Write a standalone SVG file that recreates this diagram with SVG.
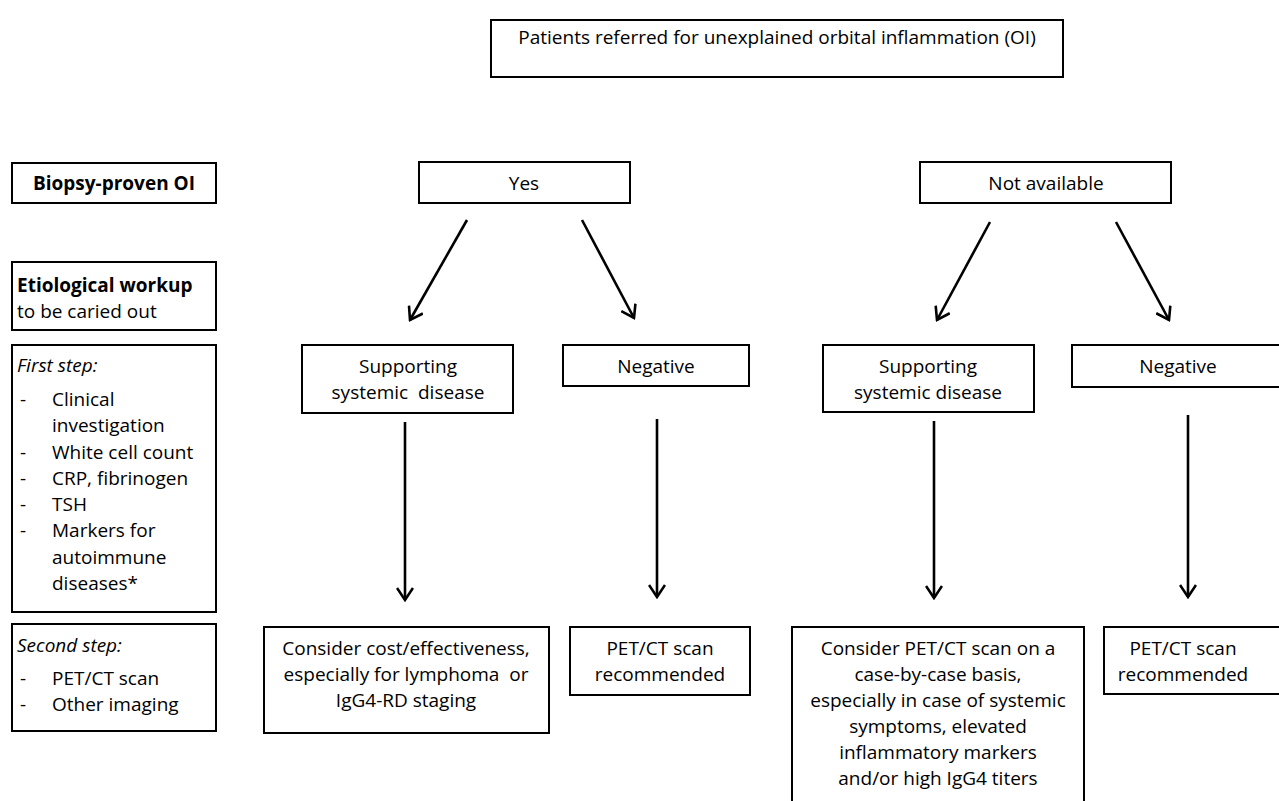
<svg xmlns="http://www.w3.org/2000/svg" width="1279" height="801" viewBox="0 0 1279 801">
<style>
.box{fill:#fff;stroke:#000;stroke-width:2}
.t{font-family:"Open Sans","Liberation Sans",sans-serif;font-size:19px;fill:#000}
.c{text-anchor:middle}
.b{font-weight:bold}
.i{font-style:italic}
.p{white-space:pre}
.arr{fill:none;stroke:#000;stroke-width:2.6;marker-end:url(#ah)}
</style>
<defs>
<marker id="ah" viewBox="0 0 18 18" refX="16" refY="9" markerWidth="18" markerHeight="18" markerUnits="userSpaceOnUse" orient="auto">
<path d="M4,1 L16,9 L4,17" fill="none" stroke="#000" stroke-width="2.6"/>
</marker>
</defs>
<rect width="1279" height="801" fill="#fff"/>

<g id="top">
<rect class="box" x="491" y="20" width="572" height="57"/>
<text class="t c" x="777" y="44">Patients referred for unexplained orbital inflammation (OI)</text>
</g>

<g id="biopsy">
<rect class="box" x="12" y="163" width="204" height="40"/>
<text class="t c b" x="114" y="190">Biopsy-proven OI</text>
</g>
<g id="yes">
<rect class="box" x="419" y="162" width="211" height="41"/>
<text class="t c" x="524" y="190">Yes</text>
</g>
<g id="notavail">
<rect class="box" x="920" y="162" width="251" height="41"/>
<text class="t c" x="1046" y="190">Not available</text>
</g>

<g id="etio">
<rect class="box" x="12" y="262" width="204" height="68"/>
<text class="t b" x="17" y="292">Etiological workup</text>
<text class="t" x="17" y="318">to be caried out</text>
</g>

<g id="first">
<rect class="box" x="12" y="345" width="204" height="267"/>
<text class="t i" x="17" y="372">First step:</text>
<text class="t" x="20" y="406">-</text><text class="t" x="52" y="406">Clinical</text>
<text class="t" x="52" y="432">investigation</text>
<text class="t" x="20" y="459">-</text><text class="t" x="52" y="459">White cell count</text>
<text class="t" x="20" y="485">-</text><text class="t" x="52" y="485">CRP, fibrinogen</text>
<text class="t" x="20" y="511">-</text><text class="t" x="52" y="511">TSH</text>
<text class="t" x="20" y="537">-</text><text class="t" x="52" y="537">Markers for</text>
<text class="t" x="52" y="564">autoimmune</text>
<text class="t" x="52" y="590">diseases*</text>
</g>

<g id="second">
<rect class="box" x="12" y="624" width="204" height="107"/>
<text class="t i" x="17" y="652">Second step:</text>
<text class="t" x="20" y="685">-</text><text class="t" x="52" y="685">PET/CT scan</text>
<text class="t" x="20" y="711">-</text><text class="t" x="52" y="711">Other imaging</text>
</g>

<g id="supL">
<rect class="box" x="302" y="345" width="211" height="68"/>
<text class="t c" x="408" y="373">Supporting</text>
<text class="t c p" x="408" y="399">systemic  disease</text>
</g>
<g id="negL">
<rect class="box" x="563" y="345" width="186" height="41"/>
<text class="t c" x="656" y="373">Negative</text>
</g>
<g id="supR">
<rect class="box" x="823" y="345" width="211" height="67"/>
<text class="t c" x="928" y="373">Supporting</text>
<text class="t c" x="928" y="399">systemic disease</text>
</g>
<g id="negR">
<rect class="box" x="1072" y="345" width="220" height="42"/>
<text class="t c" x="1178" y="373">Negative</text>
</g>

<g id="costL">
<rect class="box" x="264" y="627" width="285" height="106"/>
<text class="t c" x="406" y="655">Consider cost/effectiveness,</text>
<text class="t c p" x="406" y="681">especially for lymphoma  or</text>
<text class="t c" x="406" y="707">IgG4-RD staging</text>
</g>
<g id="petL">
<rect class="box" x="570" y="627" width="180" height="68"/>
<text class="t c" x="660" y="655">PET/CT scan</text>
<text class="t c" x="660" y="681">recommended</text>
</g>
<g id="caseR">
<rect class="box" x="792" y="627" width="292" height="190"/>
<text class="t c" x="938" y="655">Consider PET/CT scan on a</text>
<text class="t c" x="938" y="681">case-by-case basis,</text>
<text class="t c" x="938" y="707">especially in case of systemic</text>
<text class="t c" x="938" y="733">symptoms, elevated</text>
<text class="t c" x="938" y="759">inflammatory markers</text>
<text class="t c" x="938" y="785">and/or high IgG4 titers</text>
</g>
<g id="petR">
<rect class="box" x="1104" y="627" width="190" height="67"/>
<text class="t c" x="1183" y="655">PET/CT scan</text>
<text class="t c" x="1183" y="681">recommended</text>
</g>

<g id="connectors">
<path class="arr" d="M467,220 L410,320"/>
<path class="arr" d="M582,220 L634,318"/>
<path class="arr" d="M990,222 L937,320"/>
<path class="arr" d="M1116,222 L1169,320"/>
<path class="arr" d="M405,422 L405,600"/>
<path class="arr" d="M657,419 L657,597"/>
<path class="arr" d="M934,421 L934,598"/>
<path class="arr" d="M1188,415 L1188,597"/>
</g>
</svg>
